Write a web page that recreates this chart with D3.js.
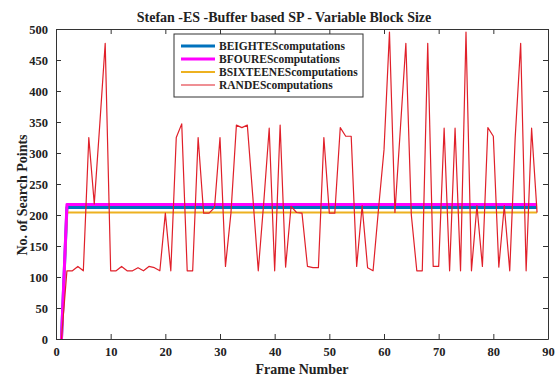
<!DOCTYPE html>
<html lang="en">

<head>
    <meta charset="UTF-8">
    <title>Stefan ES Buffer based SP</title>
</head>

<body style="margin:0;background:#fff">
    <script src='https://d3js.org/d3.v7.min.js'></script>
    <style>
        svg text {
            font-family: "Liberation Serif", "Times New Roman", serif;
            font-weight: bold;
            fill: #222;
        }
    </style>
    <script>
        // frame numbers 1..88
        var frames = [1, 2, 3, 4, 5, 6, 7, 8, 9, 10, 11, 12, 13, 14, 15, 16, 17, 18, 19, 20,
            21, 22, 23, 24, 25, 26, 27, 28, 29, 30, 31, 32, 33, 34, 35, 36, 37, 38, 39, 40,
            41, 42, 43, 44, 45, 46, 47, 48, 49, 50, 51, 52, 53, 54, 55, 56, 57, 58, 59, 60,
            61, 62, 63, 64, 65, 66, 67, 68, 69, 70, 71, 72, 73, 74, 75, 76, 77, 78, 79, 80,
            81, 82, 83, 84, 85, 86, 87, 88];
        var beighte = [0, 212, 212, 212, 212, 212, 212, 212, 212, 212, 212, 212, 212, 212, 212, 212, 212, 212, 212, 212,
            212, 212, 212, 212, 212, 212, 212, 212, 212, 212, 212, 212, 212, 212, 212, 212, 212, 212, 212, 212,
            212, 212, 212, 212, 212, 212, 212, 212, 212, 212, 212, 212, 212, 212, 212, 212, 212, 212, 212, 212,
            212, 212, 212, 212, 212, 212, 212, 212, 212, 212, 212, 212, 212, 212, 212, 212, 212, 212, 212, 212,
            212, 212, 212, 212, 212, 212, 212, 212];
        var bfoure = [0, 217, 217, 217, 217, 217, 217, 217, 217, 217, 217, 217, 217, 217, 217, 217, 217, 217, 217, 217,
            217, 217, 217, 217, 217, 217, 217, 217, 217, 217, 217, 217, 217, 217, 217, 217, 217, 217, 217, 217,
            217, 217, 217, 217, 217, 217, 217, 217, 217, 217, 217, 217, 217, 217, 217, 217, 217, 217, 217, 217,
            217, 217, 217, 217, 217, 217, 217, 217, 217, 217, 217, 217, 217, 217, 217, 217, 217, 217, 217, 217,
            217, 217, 217, 217, 217, 217, 217, 217];
        var bsixteene = [0, 204, 204, 204, 204, 204, 204, 204, 204, 204, 204, 204, 204, 204, 204, 204, 204, 204, 204, 204,
            204, 204, 204, 204, 204, 204, 204, 204, 204, 204, 204, 204, 204, 204, 204, 204, 204, 204, 204, 204,
            204, 204, 204, 204, 204, 204, 204, 204, 204, 204, 204, 204, 204, 204, 204, 204, 204, 204, 204, 204,
            204, 204, 204, 204, 204, 204, 204, 204, 204, 204, 204, 204, 204, 204, 204, 204, 204, 204, 204, 204,
            204, 204, 204, 204, 204, 204, 204, 204];
        var rande = [0, 110, 110, 117, 110, 325, 218, 345, 477, 110, 110, 117, 110, 110, 115, 110, 117, 115, 110, 203,
            110, 325, 347, 110, 110, 325, 203, 203, 212, 325, 117, 203, 345, 341, 345, 230, 110, 220, 340, 110,
            345, 116, 214, 204, 203, 117, 115, 115, 325, 203, 203, 341, 327, 327, 117, 215, 115, 110, 210, 305,
            495, 204, 340, 477, 200, 110, 110, 477, 117, 117, 340, 110, 340, 110, 495, 110, 215, 117, 341, 327,
            116, 215, 110, 325, 477, 110, 340, 204];
        var xTicks = [0, 10, 20, 30, 40, 50, 60, 70, 80, 90];
        var yTicks = [0, 50, 100, 150, 200, 250, 300, 350, 400, 450, 500];

        var series = [
            { name: "BEIGHTEScomputations", values: beighte, color: "#0072BD", width: 3 },
            { name: "BFOUREScomputations", values: bfoure, color: "#FF00FF", width: 3 },
            { name: "BSIXTEENEScomputations", values: bsixteene, color: "#EDB120", width: 2 },
            { name: "RANDEScomputations", values: rande, color: "#E0202A", width: 1.2 }
        ];

        var W = 558, H = 378;
        var pLeft = 56, pRight = 548, pTop = 29, pBottom = 339;

        var svg = d3.select("body").append("svg")
            .attr("width", W).attr("height", H);

        var x = d3.scaleLinear().domain([0, 90]).range([pLeft, pRight]);
        var y = d3.scaleLinear().domain([0, 500]).range([pBottom, pTop]);

        // series lines (magenta drawn over blue)
        var line = d3.line()
            .x(function (d, i) { return x(frames[i]); })
            .y(function (d) { return y(d); });
        var order = [0, 2, 1, 3];
        order.forEach(function (k) {
            var s = series[k];
            svg.append("path")
                .attr("d", line(s.values))
                .attr("fill", "none")
                .attr("stroke", s.color)
                .attr("stroke-width", s.width)
                .attr("stroke-linejoin", "round");
        });

        // axes, MATLAB style: inward ticks on all four sides
        var ax = svg.append("g").attr("color", "#333");
        ax.append("g").attr("transform", "translate(0," + pBottom + ")")
            .call(d3.axisBottom(x).tickValues(xTicks).tickSizeInner(-5).tickSizeOuter(0).tickPadding(8))
            .call(function (g) { g.selectAll("text").attr("font-size", 12.5); });
        ax.append("g").attr("transform", "translate(0," + pTop + ")")
            .call(d3.axisTop(x).tickValues(xTicks).tickSizeInner(-5).tickSizeOuter(0).tickFormat(""));
        ax.append("g").attr("transform", "translate(" + pLeft + ",0)")
            .call(d3.axisLeft(y).tickValues(yTicks).tickSizeInner(-5).tickSizeOuter(0).tickPadding(8))
            .call(function (g) { g.selectAll("text").attr("font-size", 12.5); });
        ax.append("g").attr("transform", "translate(" + pRight + ",0)")
            .call(d3.axisRight(y).tickValues(yTicks).tickSizeInner(-5).tickSizeOuter(0).tickFormat(""));
        ax.selectAll("text").style("fill", "#222");

        // title and labels
        svg.append("text").attr("x", 284).attr("y", 22)
            .attr("text-anchor", "middle").attr("font-size", 14)
            .text("Stefan -ES -Buffer based SP - Variable Block Size");
        svg.append("text").attr("x", 302).attr("y", 374)
            .attr("text-anchor", "middle").attr("font-size", 14)
            .text("Frame Number");
        svg.append("text")
            .attr("transform", "translate(27,195) rotate(-90)")
            .attr("text-anchor", "middle").attr("font-size", 14)
            .text("No. of Search Points");

        // legend
        var lg = svg.append("g").attr("transform", "translate(174,34)");
        lg.append("rect").attr("width", 189).attr("height", 63)
            .attr("fill", "#fff").attr("stroke", "#333").attr("stroke-width", 1);
        series.forEach(function (s, i) {
            var yy = 12 + i * 13;
            lg.append("line").attr("x1", 7).attr("x2", 41).attr("y1", yy).attr("y2", yy)
                .attr("stroke", s.color).attr("stroke-width", s.width);
            lg.append("text").attr("x", 45).attr("y", yy + 4)
                .attr("font-size", 11.5).text(s.name);
        });
    </script>
</body>

</html>
